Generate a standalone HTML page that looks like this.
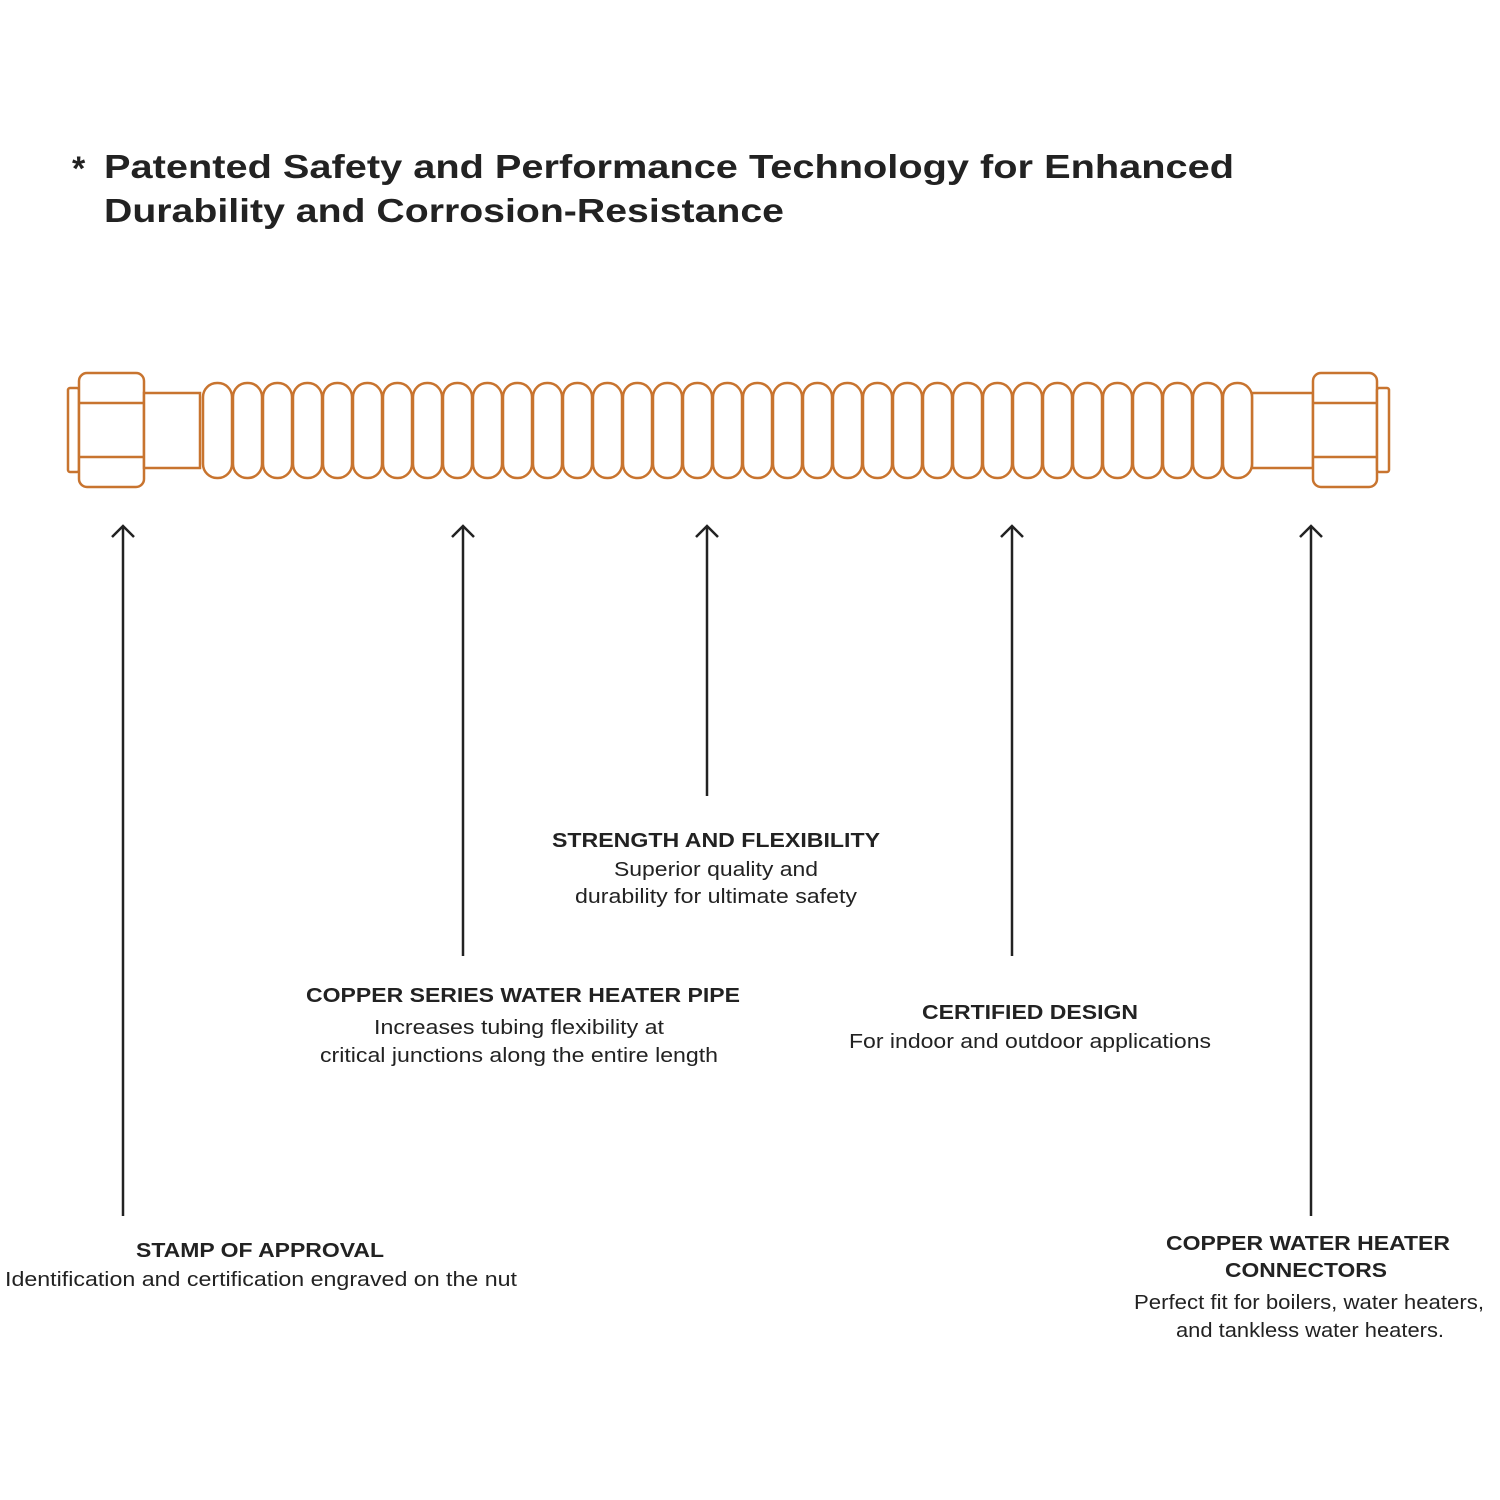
<!DOCTYPE html>
<html><head><meta charset="utf-8"><style>html,body{margin:0;padding:0;background:#fff}svg{display:block}</style></head><body>
<svg width="1500" height="1500" viewBox="0 0 1500 1500" xmlns="http://www.w3.org/2000/svg" font-family="Liberation Sans, sans-serif">
<rect width="1500" height="1500" fill="#fff"/>
<text x="72" y="180" font-size="34" font-weight="bold" fill="#222">*</text>
<text x="104" y="178" font-size="33" font-weight="bold" fill="#222" textLength="1130" lengthAdjust="spacingAndGlyphs">Patented Safety and Performance Technology for Enhanced</text>
<text x="104" y="222" font-size="33" font-weight="bold" fill="#222" textLength="680" lengthAdjust="spacingAndGlyphs">Durability and Corrosion-Resistance</text>
<g fill="#fff" stroke="#c8742f" stroke-width="2.5">
<rect x="68" y="388" width="11" height="84" rx="2"/>
<rect x="79" y="373" width="65" height="114" rx="8"/>
<line x1="80" y1="403" x2="143" y2="403"/><line x1="80" y1="457" x2="143" y2="457"/>
<rect x="144" y="393" width="56" height="75"/>
<rect x="1252" y="393" width="61" height="75"/>
<rect x="1313" y="373" width="64" height="114" rx="8"/>
<line x1="1314" y1="403" x2="1376" y2="403"/><line x1="1314" y1="457" x2="1376" y2="457"/>
<rect x="1377" y="388" width="12" height="84" rx="2"/>
<g id="c">
<rect x="203" y="383" width="29" height="95" rx="14"/><rect x="233" y="383" width="29" height="95" rx="14"/><rect x="263" y="383" width="29" height="95" rx="14"/><rect x="293" y="383" width="29" height="95" rx="14"/><rect x="323" y="383" width="29" height="95" rx="14"/><rect x="353" y="383" width="29" height="95" rx="14"/><rect x="383" y="383" width="29" height="95" rx="14"/><rect x="413" y="383" width="29" height="95" rx="14"/><rect x="443" y="383" width="29" height="95" rx="14"/><rect x="473" y="383" width="29" height="95" rx="14"/><rect x="503" y="383" width="29" height="95" rx="14"/><rect x="533" y="383" width="29" height="95" rx="14"/><rect x="563" y="383" width="29" height="95" rx="14"/><rect x="593" y="383" width="29" height="95" rx="14"/><rect x="623" y="383" width="29" height="95" rx="14"/><rect x="653" y="383" width="29" height="95" rx="14"/><rect x="683" y="383" width="29" height="95" rx="14"/><rect x="713" y="383" width="29" height="95" rx="14"/><rect x="743" y="383" width="29" height="95" rx="14"/><rect x="773" y="383" width="29" height="95" rx="14"/><rect x="803" y="383" width="29" height="95" rx="14"/><rect x="833" y="383" width="29" height="95" rx="14"/><rect x="863" y="383" width="29" height="95" rx="14"/><rect x="893" y="383" width="29" height="95" rx="14"/><rect x="923" y="383" width="29" height="95" rx="14"/><rect x="953" y="383" width="29" height="95" rx="14"/><rect x="983" y="383" width="29" height="95" rx="14"/><rect x="1013" y="383" width="29" height="95" rx="14"/><rect x="1043" y="383" width="29" height="95" rx="14"/><rect x="1073" y="383" width="29" height="95" rx="14"/><rect x="1103" y="383" width="29" height="95" rx="14"/><rect x="1133" y="383" width="29" height="95" rx="14"/><rect x="1163" y="383" width="29" height="95" rx="14"/><rect x="1193" y="383" width="29" height="95" rx="14"/><rect x="1223" y="383" width="29" height="95" rx="14"/>
</g>
</g>
<g stroke="#222" stroke-width="2.5" fill="none">
<line x1="123" y1="526" x2="123" y2="1216"/><polyline points="112,537 123,526 134,537"/>
<line x1="463" y1="526" x2="463" y2="956"/><polyline points="452,537 463,526 474,537"/>
<line x1="707" y1="526" x2="707" y2="796"/><polyline points="696,537 707,526 718,537"/>
<line x1="1012" y1="526" x2="1012" y2="956"/><polyline points="1001,537 1012,526 1023,537"/>
<line x1="1311" y1="526" x2="1311" y2="1216"/><polyline points="1300,537 1311,526 1322,537"/>
</g>
<g fill="#222" text-anchor="middle">
<text x="716" y="847" font-size="20" font-weight="bold" textLength="328" lengthAdjust="spacingAndGlyphs">STRENGTH AND FLEXIBILITY</text>
<text x="716" y="876" font-size="20" textLength="204" lengthAdjust="spacingAndGlyphs">Superior quality and</text>
<text x="716" y="903" font-size="20" textLength="282" lengthAdjust="spacingAndGlyphs">durability for ultimate safety</text>
<text x="523" y="1002" font-size="20" font-weight="bold" textLength="434" lengthAdjust="spacingAndGlyphs">COPPER SERIES WATER HEATER PIPE</text>
<text x="519" y="1034" font-size="20" textLength="290" lengthAdjust="spacingAndGlyphs">Increases tubing flexibility at</text>
<text x="519" y="1062" font-size="20" textLength="398" lengthAdjust="spacingAndGlyphs">critical junctions along the entire length</text>
<text x="1030" y="1019" font-size="20" font-weight="bold" textLength="216" lengthAdjust="spacingAndGlyphs">CERTIFIED DESIGN</text>
<text x="1030" y="1048" font-size="20" textLength="362" lengthAdjust="spacingAndGlyphs">For indoor and outdoor applications</text>
<text x="260" y="1257" font-size="20" font-weight="bold" textLength="248" lengthAdjust="spacingAndGlyphs">STAMP OF APPROVAL</text>
<text x="261" y="1286" font-size="20" textLength="512" lengthAdjust="spacingAndGlyphs">Identification and certification engraved on the nut</text>
<text x="1308" y="1250" font-size="20" font-weight="bold" textLength="284" lengthAdjust="spacingAndGlyphs">COPPER WATER HEATER</text>
<text x="1306" y="1277" font-size="20" font-weight="bold" textLength="162" lengthAdjust="spacingAndGlyphs">CONNECTORS</text>
<text x="1309" y="1309" font-size="20" textLength="350" lengthAdjust="spacingAndGlyphs">Perfect fit for boilers, water heaters,</text>
<text x="1310" y="1337" font-size="20" textLength="268" lengthAdjust="spacingAndGlyphs">and tankless water heaters.</text>
</g>
</svg>
</body></html>
